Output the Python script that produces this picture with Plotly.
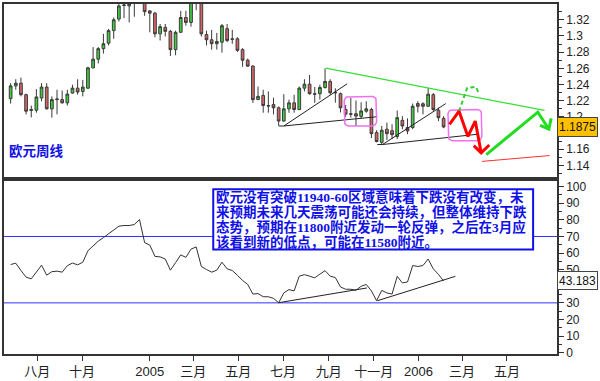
import numpy as np
import pandas as pd
import plotly.graph_objects as go

# ---------------- data ----------------
week_dates = pd.date_range("2004-06-26", periods=85, freq="7D")

opens = [1.2225, 1.2383, 1.2416, 1.2274, 1.2079, 1.2082, 1.2233, 1.2368, 1.2099, 1.2213,
         1.2213, 1.2173, 1.2294, 1.2355, 1.2314, 1.2355, 1.2606, 1.2713, 1.2843, 1.2911,
         1.3066, 1.3209, 1.3377, 1.3371, 1.3450, 1.3550, 1.3420, 1.3310, 1.3282, 1.3026,
         1.3106, 1.3057, 1.2831, 1.3045, 1.3228, 1.3167, 1.3480, 1.3410, 1.3017, 1.2953,
         1.2904, 1.2923, 1.3090, 1.2965, 1.2965, 1.2831, 1.2700, 1.2627, 1.2213, 1.2265,
         1.2140, 1.2152, 1.2112, 1.1948, 1.2099, 1.2173, 1.2091, 1.2355, 1.2404, 1.2286,
         1.2286, 1.2363, 1.2438, 1.2304, 1.2286, 1.2091, 1.2039, 1.2039, 1.2006, 1.2070,
         1.2091, 1.1805, 1.1685, 1.1847, 1.1829, 1.1756, 1.1957, 1.1868, 1.1868, 1.2164,
         1.2162, 1.2131, 1.2274, 1.2082, 1.1981]
closes = [1.2383, 1.2416, 1.2274, 1.2070, 1.2091, 1.2246, 1.2368, 1.2099, 1.2213, 1.2220,
          1.2173, 1.2282, 1.2355, 1.2307, 1.2368, 1.2606, 1.2713, 1.2843, 1.2904, 1.3066,
          1.3200, 1.3371, 1.3383, 1.3399, 1.3550, 1.3620, 1.3301, 1.3282, 1.3026, 1.3115,
          1.3057, 1.2831, 1.3045, 1.3228, 1.3167, 1.3450, 1.3420, 1.3026, 1.2953, 1.2904,
          1.2932, 1.3127, 1.2944, 1.2959, 1.2822, 1.2700, 1.2627, 1.2213, 1.2253, 1.2140,
          1.2134, 1.2112, 1.1948, 1.2099, 1.2173, 1.2091, 1.2355, 1.2404, 1.2286, 1.2280,
          1.2363, 1.2438, 1.2298, 1.2298, 1.2112, 1.2034, 1.2032, 1.2009, 1.2073, 1.2099,
          1.1792, 1.1695, 1.1835, 1.1792, 1.1780, 1.1990, 1.1887, 1.1826, 1.2131, 1.2131,
          1.2131, 1.2280, 1.2091, 1.1990, 1.1875]
highs = [1.2416, 1.2465, 1.2485, 1.2286, 1.2140, 1.2343, 1.2416, 1.2416, 1.2253, 1.2335,
         1.2326, 1.2335, 1.2396, 1.2465, 1.2457, 1.2619, 1.2862, 1.2862, 1.3026, 1.3087,
         1.3228, 1.3411, 1.3456, 1.3493, 1.3600, 1.3667, 1.3480, 1.3318, 1.3298, 1.3148,
         1.3148, 1.3075, 1.3066, 1.3310, 1.3310, 1.3585, 1.3530, 1.3440, 1.3066, 1.3075,
         1.3038, 1.3148, 1.3148, 1.3075, 1.2984, 1.2850, 1.2721, 1.2639, 1.2375, 1.2335,
         1.2314, 1.2237, 1.2128, 1.2280, 1.2213, 1.2274, 1.2375, 1.2465, 1.2518, 1.2371,
         1.2396, 1.2599, 1.2465, 1.2353, 1.2302, 1.2146, 1.2234, 1.2203, 1.2180, 1.2192,
         1.2112, 1.1835, 1.1887, 1.1929, 1.1908, 1.2079, 1.2009, 1.1981, 1.2164, 1.2192,
         1.2180, 1.2355, 1.2294, 1.2112, 1.2009]
lows = [1.2164, 1.2335, 1.2253, 1.2030, 1.1993, 1.2051, 1.2192, 1.2091, 1.1990, 1.2030,
        1.2164, 1.2140, 1.2286, 1.2274, 1.2253, 1.2343, 1.2599, 1.2660, 1.2782, 1.2883,
        1.2965, 1.3179, 1.3221, 1.3167, 1.3237, 1.3420, 1.3249, 1.3045, 1.2984, 1.2944,
        1.2993, 1.2753, 1.2761, 1.3038, 1.3127, 1.3115, 1.3318, 1.2993, 1.2883, 1.2831,
        1.2831, 1.2794, 1.2923, 1.2904, 1.2802, 1.2619, 1.2619, 1.2173, 1.2209, 1.2051,
        1.2051, 1.2030, 1.1890, 1.1939, 1.2051, 1.2051, 1.2082, 1.2314, 1.2274, 1.2173,
        1.2213, 1.2349, 1.2274, 1.2176, 1.2054, 1.2000, 1.1990, 1.1887, 1.1981, 1.2051,
        1.1738, 1.1685, 1.1652, 1.1713, 1.1725, 1.1725, 1.1847, 1.1786, 1.1847, 1.2054,
        1.2030, 1.2121, 1.2070, 1.1948, 1.1859]
rsi = [53.1, 53.9, 49.5, 45.5, 44.5, 48.5, 52.7, 46.7, 48.8, 49.1,
       48.5, 52.4, 54.0, 52.9, 54.5, 61.4, 64.3, 67.2, 69.3, 71.7,
       74.2, 76.2, 76.6, 76.6, 77.2, 80.2, 66.3, 64.8, 58.0, 57.7,
       56.4, 49.7, 54.2, 58.9, 57.4, 62.4, 63.7, 51.9, 50.1, 48.5,
       49.7, 54.5, 50.5, 49.5, 46.6, 43.5, 41.1, 35.3, 35.6, 33.7,
       33.7, 32.7, 30.1, 36.0, 38.0, 37.2, 46.1, 47.0, 46.1, 45.1,
       47.3, 49.4, 46.1, 45.2, 39.6, 38.2, 38.2, 37.6, 40.0, 41.1,
       37.2, 31.3, 37.5, 36.0, 35.3, 46.0, 42.0, 42.6, 52.5, 51.9,
       52.5, 56.4, 50.5, 47.2, 43.183]

last_price = 1.1875
last_rsi = 43.183
rsi_levels = [30, 70]

price_ticks = [1.14, 1.16, 1.18, 1.20, 1.22, 1.24, 1.26, 1.28, 1.30, 1.32]
# 1.18 sits completely under the last-price tag in the reference
price_tick_text = ["1.14", "1.16", "", "1.2", "1.22", "1.24", "1.26", "1.28", "1.3", "1.32"]
price_minor = [1.13, 1.15, 1.17, 1.19, 1.21, 1.23, 1.25, 1.27, 1.29, 1.31, 1.33]
rsi_ticks = [0, 10, 20, 30, 40, 50, 60, 70, 80, 90, 100]
# 40 sits completely under the last-RSI tag in the reference
rsi_tick_text = ["0", "10", "20", "30", "", "50", "60", "70", "80", "90", "100"]
rsi_minor = [5, 15, 25, 35, 45, 55, 65, 75, 85, 95]
month_tick_dates = ["2004-08-01", "2004-10-01", "2005-01-01", "2005-03-01", "2005-05-01",
                    "2005-07-01", "2005-09-01", "2005-11-01", "2006-01-01", "2006-03-01",
                    "2006-05-01"]
month_tick_text = ["八月", "十月", "2005", "三月", "五月", "七月", "九月", "十一月",
                   "2006", "三月", "五月"]

# drawn analysis lines (date, price)
trend_a_x = ["2005-07-02", "2005-09-26"]
trend_a_y = [1.1887, 1.2408]
trend_b_x = ["2005-06-25", "2005-07-02", "2005-11-06"]
trend_b_y = [1.1887, 1.1887, 1.2002]
trend_c_x = ["2005-11-06", "2005-11-13", "2006-03-23"]
trend_c_y = [1.1658, 1.1658, 1.1786]
trend_d_x = ["2005-11-13", "2006-02-07"]
trend_d_y = [1.1658, 1.2164]
resist_x = ["2005-08-28", "2006-06-21"]
resist_y = [1.2603, 1.2079]
box1_x = ["2005-09-22", "2005-11-05"]
box1_y = [1.1887, 1.2253]
box2_x = ["2006-02-10", "2006-03-28"]
box2_y = [1.1705, 1.2091]
red_zig_x = ["2006-02-12", "2006-02-25", "2006-03-09", "2006-03-19", "2006-03-27"]
red_zig_y = [1.1908, 1.2070, 1.1758, 1.1948, 1.1555]
red_head_x = ["2006-03-17", "2006-03-27", "2006-04-07"]
red_head_y = [1.1644, 1.1555, 1.1652]
green_dash_x = ["2006-02-25", "2006-03-08", "2006-03-20", "2006-03-24"]
green_dash_y = [1.2070, 1.2359, 1.2371, 1.2286]
green_arrow_x = ["2006-04-03", "2006-06-12", "2006-06-27"]
green_arrow_y = [1.1534, 1.2058, 1.1847]
green_head_x = ["2006-06-15", "2006-06-27", "2006-06-30"]
green_head_y = [1.1896, 1.1847, 1.1981]
red_thin_x = ["2006-03-28", "2006-06-28"]
red_thin_y = [1.1449, 1.1522]
rsi_trend1_x = ["2005-06-25", "2005-10-23"]
rsi_trend1_y = [30.1, 39.0]
rsi_trend2_x = ["2005-11-06", "2006-02-20"]
rsi_trend2_y = [31.3, 46.0]

note_lines = [
    "欧元没有突破11940-60区域意味着下跌没有改变，未",
    "来预期未来几天震荡可能还会持续，但整体维持下跌",
    "态势，预期在11800附近发动一轮反弹，之后在3月应",
    "该看到新的低点，可能在11580附近。",
]
panel_title = "欧元周线"

# ---------------- figure ----------------
BLUE = "#1010e8"
FRAME = "#333333"
TICKFONT = dict(family="Liberation Sans, Arial, Noto Sans CJK SC", size=12, color="#222222")


def rounded_box(xs, ys, r_days=6.5, r_price=0.006):
    x0, x1 = pd.Timestamp(xs[0]), pd.Timestamp(xs[1])
    y0, y1 = ys
    px, py = [], []
    corners = [(x1 - pd.Timedelta(days=r_days), y0 + r_price, -90, 0),
               (x1 - pd.Timedelta(days=r_days), y1 - r_price, 0, 90),
               (x0 + pd.Timedelta(days=r_days), y1 - r_price, 90, 180),
               (x0 + pd.Timedelta(days=r_days), y0 + r_price, 180, 270)]
    for cx, cy, a0, a1 in corners:
        for a in np.radians(np.linspace(a0, a1, 7)):
            px.append(cx + pd.to_timedelta(r_days * np.cos(a), unit="D"))
            py.append(cy + r_price * np.sin(a))
    px.append(px[0])
    py.append(py[0])
    return px, py


fig = go.Figure()

fig.add_trace(go.Candlestick(
    x=week_dates, open=opens, high=highs, low=lows, close=closes,
    xaxis="x", yaxis="y",
    increasing=dict(line=dict(color="#3a3a3a", width=1), fillcolor="#3fcc3f"),
    decreasing=dict(line=dict(color="#3a3a3a", width=1), fillcolor="#d46464"),
    whiskerwidth=0, hoverinfo="skip", showlegend=False,
))


def line(x, y, color, width, dash="solid", yaxis="y", xaxis="x"):
    fig.add_trace(go.Scatter(x=x, y=y, mode="lines", xaxis=xaxis, yaxis=yaxis,
                             line=dict(color=color, width=width, dash=dash),
                             hoverinfo="skip", showlegend=False))


line(trend_a_x, trend_a_y, "#222222", 1)
line(trend_b_x, trend_b_y, "#222222", 1)
line(trend_c_x, trend_c_y, "#222222", 1)
line(trend_d_x, trend_d_y, "#222222", 1)
line(resist_x, resist_y, "#33e033", 1.2)
bx, by = rounded_box(box1_x, box1_y)
line(bx, by, "#f070f0", 1.5)
bx, by = rounded_box(box2_x, box2_y)
line(bx, by, "#f070f0", 1.5)
line(red_thin_x, red_thin_y, "#ff3030", 1)
line(green_dash_x, green_dash_y, "#33cc33", 2, dash="4px,3px")
line(red_zig_x, red_zig_y, "#ff0000", 3)
line(red_head_x, red_head_y, "#ff0000", 3)
line(green_arrow_x, green_arrow_y, "#22dd22", 3)
line(green_head_x, green_head_y, "#22dd22", 3)

# RSI panel
fig.add_trace(go.Scatter(x=week_dates, y=rsi, mode="lines", xaxis="x2", yaxis="y2",
                         line=dict(color="#333333", width=1), hoverinfo="skip",
                         showlegend=False))
line(rsi_trend1_x, rsi_trend1_y, "#222222", 1, yaxis="y2", xaxis="x2")
line(rsi_trend2_x, rsi_trend2_y, "#222222", 1, yaxis="y2", xaxis="x2")

shapes = []
for lvl in rsi_levels:
    shapes.append(dict(type="line", xref="x2 domain", yref="y2", x0=0, x1=1, y0=lvl, y1=lvl,
                       line=dict(color="#3030ff", width=1), layer="below"))
shapes.append(dict(type="rect", xref="paper", yref="paper", x0=0.3784, x1=0.9568,
                   y0=0.2986, y1=0.4704, fillcolor="white",
                   line=dict(color=BLUE, width=2), layer="above"))

# one text block; base size sets the line pitch (1.3 x base), span sets glyph size
note_html = "<br>".join('<span style="font-size:13.5px"><b>' + t + "</b></span>"
                        for t in note_lines)
annotations = [
    dict(xref="paper", yref="paper", x=0.3795, y=0.3845, xanchor="left", yanchor="middle",
         align="left", text=note_html, showarrow=False,
         font=dict(family="Liberation Serif, Noto Sans CJK SC", size=11.55, color=BLUE)),
    dict(xref="paper", yref="paper", x=0.0054, y=0.5831, xanchor="left", yanchor="middle",
         text="<b>" + panel_title + "</b>", showarrow=False,
         font=dict(family="Noto Sans CJK SC", size=13.5, color=BLUE)),
    dict(xref="paper", yref="y", x=1.0, y=last_price, xanchor="left", yanchor="middle",
         text=f"{last_price:.4f}", showarrow=False, bgcolor="#ffc000",
         bordercolor="#444444", borderwidth=1, borderpad=1, width=37, height=16,
         font=dict(family="Liberation Sans, Arial", size=12, color="#111111")),
    dict(xref="paper", yref="y2", x=1.0, y=last_rsi, xanchor="left", yanchor="middle",
         text=f"{last_rsi:.3f}", showarrow=False, bgcolor="white",
         bordercolor="#444444", borderwidth=1, borderpad=1, width=37, height=15,
         font=dict(family="Liberation Sans, Arial", size=12, color="#111111")),
]

x_range = ["2004-06-17", "2006-07-08"]
common_x = dict(range=x_range, type="date", showgrid=False, zeroline=False,
                showline=True, linecolor=FRAME, linewidth=1.5, mirror=True)

fig.update_layout(
    width=600, height=381,
    margin=dict(l=2, r=43, t=3, b=23),
    plot_bgcolor="white", paper_bgcolor="white",
    showlegend=False,
    boxgap=0.25,
    xaxis=dict(domain=[0, 1], anchor="y", showticklabels=False, ticks="",
               rangeslider=dict(visible=False), **common_x),
    yaxis=dict(domain=[0.507, 1], anchor="x", side="right", range=[1.1262, 1.3395],
               tickmode="array", tickvals=price_ticks, ticktext=price_tick_text,
               ticks="outside", ticklen=5, tickcolor=FRAME, tickfont=TICKFONT,
               minor=dict(tickmode="array", tickvals=price_minor, ticks="outside",
                          ticklen=3, tickcolor=FRAME),
               showgrid=False, zeroline=False, showline=True, linecolor=FRAME,
               linewidth=1.5, mirror=True),
    xaxis2=dict(domain=[0, 1], anchor="y2", matches="x", tickmode="array",
                tickvals=month_tick_dates, ticktext=month_tick_text, ticks="outside",
                ticklen=5, tickcolor=FRAME,
                tickfont=dict(family="Liberation Sans, Arial, Noto Sans CJK SC", size=13,
                              color="#222222"),
                **common_x),
    yaxis2=dict(domain=[0, 0.493], anchor="x2", side="right", range=[-0.8, 103.15],
                tickmode="array", tickvals=rsi_ticks, ticktext=rsi_tick_text,
                ticks="outside", ticklen=5, tickcolor=FRAME, tickfont=TICKFONT,
                minor=dict(tickmode="array", tickvals=rsi_minor, ticks="outside",
                           ticklen=3, tickcolor=FRAME),
                showgrid=False, zeroline=False, showline=True, linecolor=FRAME,
                linewidth=1.5, mirror=True),
    shapes=shapes,
    annotations=annotations,
)

fig.write_html("out.html", config={"displayModeBar": False},
               post_script="document.body.style.margin='0';document.body.style.overflow='hidden';")
